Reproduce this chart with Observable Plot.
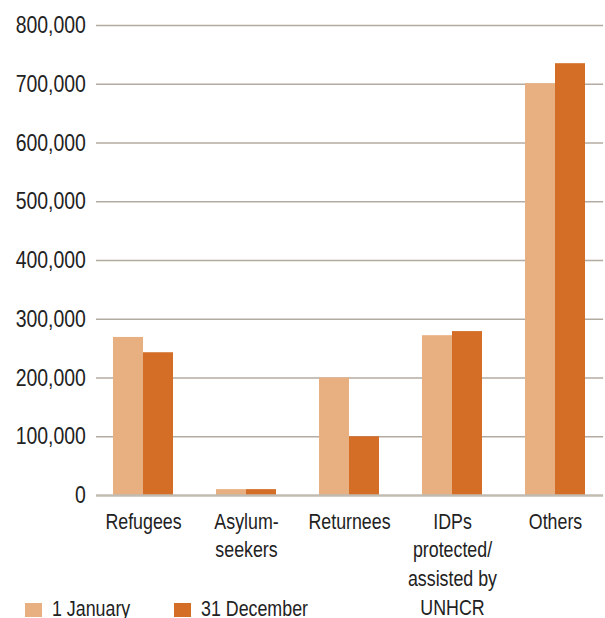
<!DOCTYPE html>
<html>
<head>
<meta charset="utf-8">
<script src="https://cdn.jsdelivr.net/npm/d3@7"></script>
<script src="https://cdn.jsdelivr.net/npm/@observablehq/plot@0.6"></script>
<style>
  html, body { margin: 0; padding: 0; background: #fff; }
  #wrap { position: relative; width: 605px; height: 618px; overflow: hidden;
    font-family: "Liberation Sans", Arial, sans-serif; color: #222; }
  .sw { position: absolute; width: 17px; height: 14px; top: 603px; }
  .lt { position: absolute; top: 598px; font-size: 22px; line-height: 22px; white-space: nowrap;
    transform: scaleX(0.81); transform-origin: left center; }
</style>
</head>
<body>
<div id="wrap"><div id="chart"></div><div id="legend"></div></div>
<script>
const categories = ["Refugees", "Asylum-seekers", "Returnees", "IDPs protected/assisted by UNHCR", "Others"];
const categoryLabels = ["Refugees", "Asylum-\nseekers", "Returnees", "IDPs\nprotected/\nassisted by\nUNHCR", "Others"];
const january1 = [269000, 10000, 200000, 272000, 701000];
const december31 = [243000, 10000, 100000, 279000, 735000];
const yTicks = [0, 100000, 200000, 300000, 400000, 500000, 600000, 700000, 800000];
const seriesNames = ["1 January", "31 December"];
const seriesColors = ["#E8B080", "#D46E26"];

const rows = categories.map((c, i) => ({category: c, label: categoryLabels[i], jan: january1[i], dec: december31[i]}));
const font = '"Liberation Sans", Arial, sans-serif';
const condense = 0.81;

const chart = Plot.plot({
  width: 605,
  height: 618,
  marginTop: 25,
  marginBottom: 123,
  marginLeft: 94.4,
  marginRight: 1.9,
  style: {fontFamily: font, background: "#fff", color: "#222", overflow: "visible"},
  x: {domain: categories, paddingInner: 0.42, paddingOuter: 0.17, axis: null},
  y: {domain: [0, 800000], axis: null},
  marks: [
    Plot.ruleY(yTicks.slice(1), {stroke: "#b3aba1", strokeWidth: 1.5, insetLeft: 1.6}),
    Plot.barY(rows, {x: "category", y: "jan", fill: seriesColors[0], insetRight: 30}),
    Plot.barY(rows, {x: "category", y: "dec", fill: seriesColors[1], insetLeft: 30}),
    Plot.ruleY([0], {stroke: "#c2bbb1", strokeWidth: 2.5, insetLeft: 1.6}),
    Plot.text(yTicks, {y: d => d, text: d => d3.format(",")(d), frameAnchor: "left", textAnchor: "end", dx: -9, fontSize: 24, fill: "#222"}),
    Plot.text(rows, {x: "category", text: "label", frameAnchor: "bottom", lineAnchor: "top", dy: 13, lineHeight: 1.3, fontSize: 22, fill: "#222"})
  ]
});
// condense the text horizontally about each label's anchor point
chart.querySelectorAll("text").forEach(t => {
  const tr = t.getAttribute("transform") || "";
  t.setAttribute("transform", (tr + ` scale(${condense},1)`).trim());
});
document.getElementById("chart").appendChild(chart);

const legend = document.getElementById("legend");
const swatchX = [25, 174];
const textX = [52, 201];
seriesNames.forEach((name, i) => {
  const sw = document.createElement("div");
  sw.className = "sw";
  sw.style.left = swatchX[i] + "px";
  sw.style.background = seriesColors[i];
  const t = document.createElement("div");
  t.className = "lt";
  t.style.left = textX[i] + "px";
  t.textContent = name;
  legend.appendChild(sw);
  legend.appendChild(t);
});
</script>
</body>
</html>
